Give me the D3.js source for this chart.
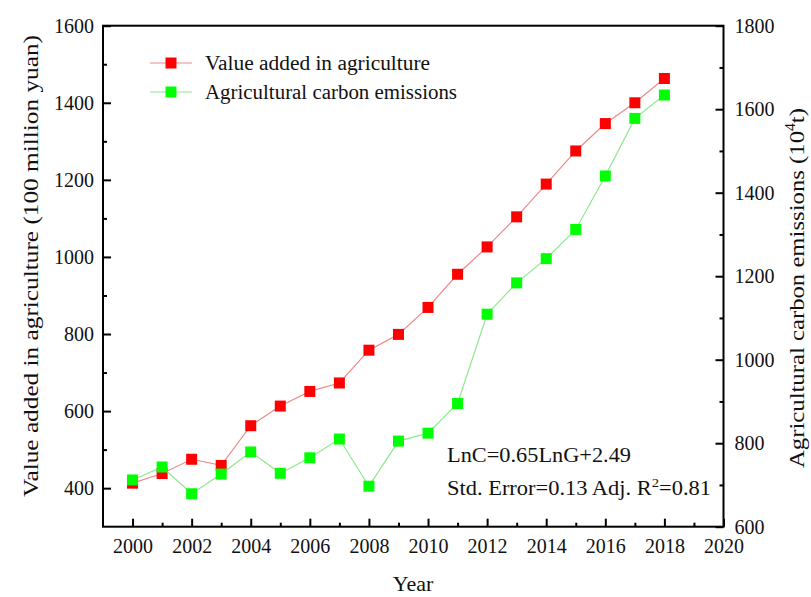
<!DOCTYPE html>
<html><head><meta charset="utf-8">
<script src="https://cdn.jsdelivr.net/npm/d3@7"></script>
<style>
html,body{margin:0;padding:0;background:#fff;}
svg text{font-family:"Liberation Serif","Times New Roman",serif;fill:#111;}
</style></head>
<body><svg id="c" width="811" height="597"></svg>
<script>
const years = [2000,2001,2002,2003,2004,2005,2006,2007,2008,2009,2010,2011,2012,2013,2014,2015,2016,2017,2018];
const valueAdded = [413,438,475,459,562,613,651,673,758,799,869,955,1026,1104,1189,1275,1346,1400,1463];
const carbonEmissions = [712,743,679,726,779,728,765,810,697,805,824,895,1109,1184,1242,1312,1440,1578,1634];
const xTicks = [2000,2002,2004,2006,2008,2010,2012,2014,2016,2018,2020];
const leftTicks = [400,600,800,1000,1200,1400,1600];
const rightTicks = [600,800,1000,1200,1400,1600,1800];
const seriesNames = ["Value added in agriculture","Agricultural carbon emissions"];

const svg = d3.select("#c");
const x = d3.scaleLinear().domain([1999,2020]).range([103,723.5]);
const yL = d3.scaleLinear().domain([300,1600]).range([526.7,25.7]);
const yR = d3.scaleLinear().domain([600,1800]).range([526.7,25.7]);
const FS = 20;

const xMinor = d3.range(2001,2020,2);
const lMinor = d3.range(500,1600,200);
const rMinor = d3.range(700,1800,200);

const ax = svg.append("g");
function styleAxis(g){
  g.select(".domain").remove();
  g.selectAll("line").attr("stroke","#000").attr("stroke-width",2);
  g.selectAll("text").attr("font-size",FS).attr("fill","#111");
}
ax.append("g").attr("transform","translate(0,526.7)")
  .call(d3.axisBottom(x).tickValues(xTicks).tickFormat(d3.format("d")).tickSize(-8).tickPadding(12))
  .call(styleAxis);
ax.append("g").attr("transform","translate(0,526.7)")
  .call(d3.axisBottom(x).tickValues(xMinor).tickFormat("").tickSize(-4))
  .call(styleAxis);
ax.append("g").attr("transform","translate(103,0)")
  .call(d3.axisLeft(yL).tickValues(leftTicks).tickFormat(d3.format("d")).tickSize(-8).tickPadding(9))
  .call(styleAxis);
ax.append("g").attr("transform","translate(103,0)")
  .call(d3.axisLeft(yL).tickValues(lMinor).tickFormat("").tickSize(-4))
  .call(styleAxis);
ax.append("g").attr("transform","translate(723.5,0)")
  .call(d3.axisRight(yR).tickValues(rightTicks).tickFormat(d3.format("d")).tickSize(-8).tickPadding(11))
  .call(styleAxis);
ax.append("g").attr("transform","translate(723.5,0)")
  .call(d3.axisRight(yR).tickValues(rMinor).tickFormat("").tickSize(-4))
  .call(styleAxis);
svg.append("rect").attr("x",103).attr("y",25.7).attr("width",620.5).attr("height",501)
  .attr("fill","none").attr("stroke","#000").attr("stroke-width",2);

const redLine = "#ee8a8a", redFill = "#ff0000";
const greenLine = "#8ee88e", greenFill = "#00ff00";
const M = 11;
function drawSeries(vals, scale, lc, fc){
  const data = years.map((y,i)=>({y, v: vals[i]}));
  svg.append("path").datum(data)
    .attr("d", d3.line().x(d=>x(d.y)).y(d=>scale(d.v)))
    .attr("fill","none").attr("stroke",lc).attr("stroke-width",1.2);
  svg.append("g").selectAll("rect").data(data).join("rect")
    .attr("x",d=>x(d.y)-M/2).attr("y",d=>scale(d.v)-M/2)
    .attr("width",M).attr("height",M).attr("fill",fc);
}
drawSeries(valueAdded, yL, redLine, redFill);
drawSeries(carbonEmissions, yR, greenLine, greenFill);

const leg = svg.append("g");
const legW = [225, 252];
[[redLine,redFill,63],[greenLine,greenFill,92]].forEach((c,i)=>{
  leg.append("line").attr("x1",150).attr("x2",192).attr("y1",c[2]).attr("y2",c[2])
    .attr("stroke",c[0]).attr("stroke-width",1.2);
  leg.append("rect").attr("x",171-M/2).attr("y",c[2]-M/2).attr("width",M).attr("height",M).attr("fill",c[1]);
  leg.append("text").attr("x",205).attr("y",c[2]).attr("dy","0.35em").attr("font-size",FS)
    .attr("textLength",legW[i]).attr("lengthAdjust","spacingAndGlyphs").text(seriesNames[i]);
});

svg.append("text").attr("x",447).attr("y",455).attr("dy","0.35em").attr("font-size",FS)
  .attr("textLength",184).attr("lengthAdjust","spacingAndGlyphs").text("LnC=0.65LnG+2.49");
const t2 = svg.append("text").attr("x",447).attr("y",488).attr("dy","0.35em").attr("font-size",FS)
  .attr("textLength",264).attr("lengthAdjust","spacingAndGlyphs");
t2.append("tspan").text("Std. Error=0.13 Adj. R");
t2.append("tspan").attr("font-size",13).attr("dy","-0.6em").text("2");
t2.append("tspan").attr("dy","0.4em").text("=0.81");

svg.append("text").attr("x",413).attr("y",591).attr("text-anchor","middle").attr("font-size",22).text("Year");
svg.append("text").attr("transform","translate(30,266) rotate(-90)").attr("text-anchor","middle")
  .attr("dy","0.35em").attr("font-size",22)
  .attr("textLength",462).attr("lengthAdjust","spacingAndGlyphs")
  .text("Value added in agriculture (100 million yuan)");
const rt = svg.append("text").attr("transform","translate(796,288) rotate(-90)").attr("text-anchor","middle")
  .attr("dy","0.35em").attr("font-size",22)
  .attr("textLength",360).attr("lengthAdjust","spacingAndGlyphs");
rt.append("tspan").text("Agricultural carbon emissions (10");
rt.append("tspan").attr("font-size",14).attr("dy","-0.6em").text("4");
rt.append("tspan").attr("dy","0.4em").text("t)");
</script></body></html>
